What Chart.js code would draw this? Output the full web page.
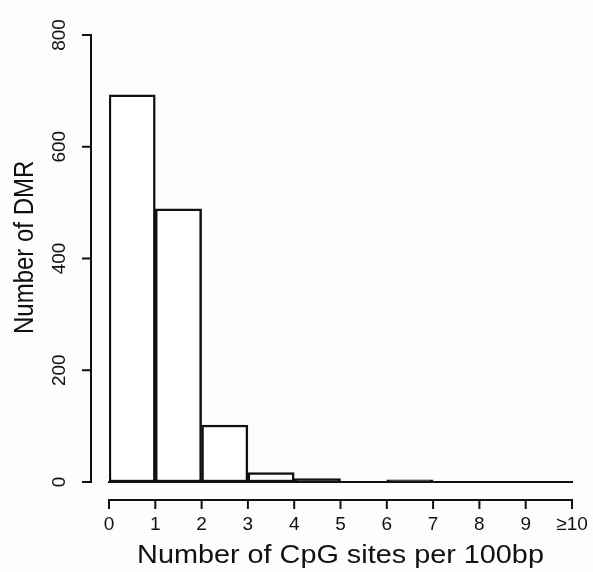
<!DOCTYPE html>
<html>
<head>
<meta charset="utf-8">
<script src="https://cdn.jsdelivr.net/npm/chart.js@4.4.1/dist/chart.umd.min.js"></script>
<style>
  html, body { margin: 0; padding: 0; background: #fdfdfd; }
  #wrap { width: 593px; height: 572px; }
</style>
</head>
<body>
<div id="wrap"><canvas id="hist" width="593" height="572"></canvas></div>
<script>
// Histogram data: DMR counts per CpG density bin
const bins = ['0-1', '1-2', '2-3', '3-4', '4-5', '5-6', '6-7', '7-8', '8-9', '9-10'];
const counts = [693, 489, 102, 17, 6, 1, 4, 1, 1, 1];
const xTicks = [0, 1, 2, 3, 4, 5, 6, 7, 8, 9, 10];
const xTickLabels = ['0', '1', '2', '3', '4', '5', '6', '7', '8', '9', '\u226510'];
const yTicks = [0, 200, 400, 600, 800];

const FONT = '"Liberation Sans", Arial, Helvetica, sans-serif';
const INK = '#111';
const STRETCH = 1.13; // the original text is a little wide

// R style detached axes, drawn from the chart's own scales
const rAxes = {
    id: 'rAxes',
    afterDraw(chart) {
        const ctx = chart.ctx;
        const xs = chart.scales.xAxis;
        const ys = chart.scales.y;
        const x0 = xs.getPixelForValue(0);
        const x1 = xs.getPixelForValue(10);
        const yb = ys.getPixelForValue(0);
        ctx.save();
        ctx.strokeStyle = INK;
        ctx.fillStyle = INK;
        ctx.lineWidth = 2;

        // bottom edge of the bins
        ctx.beginPath();
        ctx.moveTo(x0 - 1, yb);
        ctx.lineTo(x1 + 1, yb);
        ctx.stroke();

        // x axis
        const ax = yb + 18;
        ctx.beginPath();
        ctx.moveTo(x0 - 1, ax);
        ctx.lineTo(x1 + 1, ax);
        xTicks.forEach(v => {
            const px = xs.getPixelForValue(v);
            ctx.moveTo(px, ax);
            ctx.lineTo(px, ax + 9);
        });
        ctx.stroke();
        ctx.font = '19px ' + FONT;
        ctx.textAlign = 'center';
        ctx.textBaseline = 'alphabetic';
        xTicks.forEach((v, i) => {
            ctx.fillText(xTickLabels[i], xs.getPixelForValue(v), ax + 30);
        });
        ctx.save();
        ctx.font = '25.5px ' + FONT;
        ctx.translate((x0 + x1) / 2, ax + 63);
        ctx.scale(STRETCH, 1);
        ctx.fillText('Number of CpG sites per 100bp', 0, 0);
        ctx.restore();

        // y axis
        const ay = x0 - 18;
        ctx.beginPath();
        ctx.moveTo(ay, ys.getPixelForValue(0) + 1);
        ctx.lineTo(ay, ys.getPixelForValue(800) - 1);
        yTicks.forEach(v => {
            const py = ys.getPixelForValue(v);
            ctx.moveTo(ay, py);
            ctx.lineTo(ay - 9, py);
        });
        ctx.stroke();
        ctx.font = '19px ' + FONT;
        yTicks.forEach(v => {
            ctx.save();
            ctx.translate(ay - 26, ys.getPixelForValue(v));
            ctx.rotate(-Math.PI / 2);
            ctx.fillText(String(v), 0, 0);
            ctx.restore();
        });
        ctx.save();
        ctx.font = '24px ' + FONT;
        ctx.translate(33, ys.getPixelForValue(420));
        ctx.scale(1.15, 1);
        ctx.rotate(-Math.PI / 2);
        ctx.fillText('Number of DMR', 0, 0);
        ctx.restore();

        ctx.restore();
    }
};

new Chart(document.getElementById('hist'), {
    type: 'bar',
    data: {
        labels: bins,
        datasets: [{
            data: counts,
            // very flat bins look solid in the original (border covers them)
            backgroundColor: c => (c.raw < 10 ? INK : '#ffffff'),
            borderColor: INK,
            borderWidth: 2.5,
            borderSkipped: false,
            barPercentage: 1,
            categoryPercentage: 1
        }]
    },
    options: {
        responsive: false,
        animation: false,
        layout: { padding: { left: 109, right: 21, top: 35, bottom: 90 } },
        plugins: { legend: { display: false }, tooltip: { enabled: false } },
        scales: {
            x: { display: false },
            xAxis: { type: 'linear', display: false, offset: false, min: 0, max: 10 },
            y: { display: false, min: 0, max: 800 }
        }
    },
    plugins: [rAxes]
});
</script>
</body>
</html>
